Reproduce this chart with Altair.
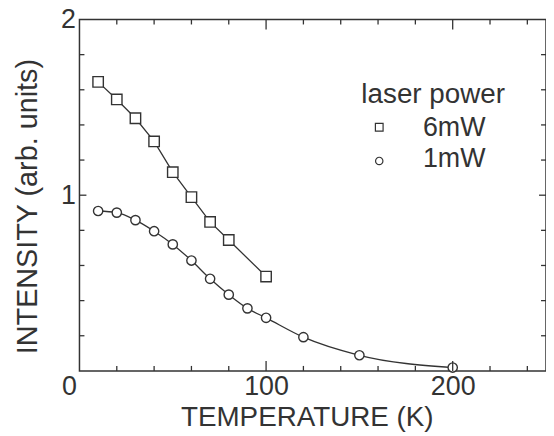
import altair as alt
import pandas as pd

# ---- data ----
temp_6mw = [10, 20, 30, 40, 50, 60, 70, 80, 100]
int_6mw = [1.645, 1.545, 1.438, 1.306, 1.131, 0.989, 0.848, 0.745, 0.537]
temp_1mw = [10, 20, 30, 40, 50, 60, 70, 80, 90, 100, 120, 150, 200]
int_1mw = [0.910, 0.901, 0.858, 0.795, 0.720, 0.628, 0.524, 0.434, 0.356, 0.302, 0.192, 0.089, 0.019]
series_labels = ["6mW", "1mW"]
series_shapes = ["square", "circle"]
legend_title = "laser power"

x_domain = [0, 250]
y_domain = [0, 2]
x_label_values = [100, 200]
y_label_values = [1, 2]
x_major = [100, 200]
x_minor = [20, 40, 60, 80, 120, 140, 160, 180, 220, 240]
y_major = [1]
y_minor = [0.2, 0.4, 0.6, 0.8, 1.2, 1.4, 1.6, 1.8]
corner_label = [0]

# ---- styling ----
W, H = 470, 354
INK = "#333333"
FONT = "Liberation Sans"

df = pd.concat([
    pd.DataFrame({"T": temp_6mw, "I": int_6mw, "power": series_labels[0]}),
    pd.DataFrame({"T": temp_1mw, "I": int_1mw, "power": series_labels[1]}),
], ignore_index=True)

xs = alt.Scale(domain=x_domain, nice=False, zero=False)
ys = alt.Scale(domain=y_domain, nice=False, zero=False)

x_axis = alt.Axis(
    values=x_label_values, title="TEMPERATURE (K)", ticks=False, tickSize=0,
    domain=False, grid=False, labelFlush=False, labelPadding=3,
    labelFont=FONT, labelFontSize=27, labelColor=INK,
    titleFont=FONT, titleFontSize=28, titleFontWeight="normal", titleColor=INK,
    titlePadding=4, titleX=229,
)
y_axis = alt.Axis(
    values=y_label_values, title="INTENSITY (arb. units)", ticks=False, tickSize=0,
    domain=False, grid=False, labelFlush=False, labelPadding=4,
    labelFont=FONT, labelFontSize=27, labelColor=INK,
    titleFont=FONT, titleFontSize=29, titleFontWeight="normal", titleColor=INK,
    titlePadding=18, titleY=188,
)


def X(field):
    return alt.X(field, scale=xs, axis=x_axis)


def Y(field):
    return alt.Y(field, scale=ys, axis=y_axis)


base = alt.Chart(df)

line6 = base.transform_filter(alt.datum.power == series_labels[0]).mark_line(
    color=INK, strokeWidth=1.3, interpolate="linear"
).encode(x=X("T:Q"), y=Y("I:Q"))

line1 = base.transform_filter(alt.datum.power == series_labels[1]).mark_line(
    color=INK, strokeWidth=1.3, interpolate="monotone"
).encode(x=X("T:Q"), y=Y("I:Q"))

points = base.mark_point(
    filled=False, fill="white", fillOpacity=1, stroke=INK, strokeWidth=1.4, opacity=1
).encode(
    x=X("T:Q"),
    y=Y("I:Q"),
    shape=alt.Shape("power:N", scale=alt.Scale(domain=series_labels, range=series_shapes), legend=None),
    size=alt.condition(alt.datum.power == series_labels[0], alt.value(110), alt.value(88)),
)


# inward ticks on all four sides: tick marks sitting on the frame edges
def xticks(values, length):
    out = []
    for edge, shift in ((y_domain[0], -length / 2), (y_domain[1], length / 2)):
        src = alt.Chart(pd.DataFrame({"v": values, "edge": [edge] * len(values)}))
        out.append(src.mark_tick(
            orient="vertical", size=length, thickness=1.3, color=INK, opacity=1, yOffset=shift
        ).encode(x=X("v:Q"), y=Y("edge:Q")))
    return out


def yticks(values, length):
    out = []
    for edge, shift in ((x_domain[0], length / 2), (x_domain[1], -length / 2)):
        src = alt.Chart(pd.DataFrame({"v": values, "edge": [edge] * len(values)}))
        out.append(src.mark_tick(
            orient="horizontal", size=length, thickness=1.3, color=INK, opacity=1, xOffset=shift
        ).encode(y=Y("v:Q"), x=X("edge:Q")))
    return out


tick_layers = xticks(x_major, 10) + xticks(x_minor, 5) + yticks(y_major, 7) + yticks(y_minor, 5)

# shared "0" label in the corner
corner = alt.Chart(pd.DataFrame({"v": corner_label})).mark_text(
    font=FONT, fontSize=27, color=INK, align="center", baseline="top", dx=-10, dy=3
).encode(x=X("v:Q"), y=Y("v:Q"), text="v:Q")

# ---- hand-placed legend (title, symbols, labels) ----
leg_src = alt.Chart(pd.DataFrame({"label": [legend_title]}))
leg_title = leg_src.mark_text(
    font=FONT, fontSize=28, color=INK, align="left", baseline="alphabetic"
).encode(text="label:N", x=alt.value(284), y=alt.value(84.5))

legend_rows = []
row_y = [(108.5, 117), (142.5, 149)]
sym_sizes = [60, 55]
for i, lab in enumerate(series_labels):
    src = alt.Chart(pd.DataFrame({"label": [lab], "shape": [series_shapes[i]]}))
    sym = src.mark_point(
        shape=series_shapes[i], filled=False, fill="white", fillOpacity=1,
        stroke=INK, strokeWidth=1.2, size=sym_sizes[i], opacity=1
    ).encode(x=alt.value(302), y=alt.value(row_y[i][0]))
    txt = src.mark_text(
        font=FONT, fontSize=27, color=INK, align="left", baseline="alphabetic"
    ).encode(text="label:N", x=alt.value(346), y=alt.value(row_y[i][1]))
    legend_rows += [sym, txt]

chart = alt.layer(line6, line1, points, corner, leg_title, *legend_rows, *tick_layers).properties(
    width=W, height=H, autosize="none",
    padding={"left": 72, "top": 10, "right": 0, "bottom": 64},
    background="white",
).configure_view(stroke=INK, strokeWidth=1.5)

chart.save("out.html", embed_options={"renderer": "svg", "actions": False})
